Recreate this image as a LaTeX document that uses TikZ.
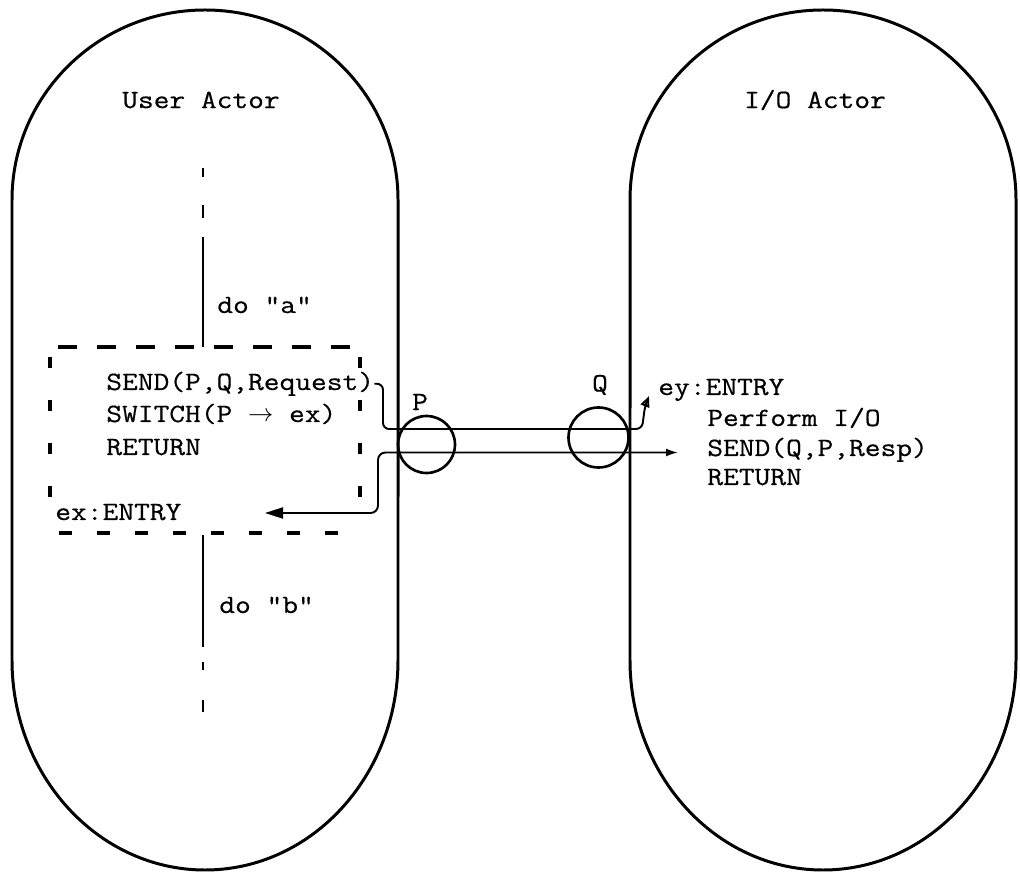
\documentclass[tikz,border=0pt]{standalone}
\usepackage{fontspec}
\setmonofont{Latin Modern Mono}[FakeStretch=1.16, FakeBold=0.5]
\usetikzlibrary{arrows.meta}

\tikzset{
  actor/.style={line width=1.7pt},
  txt/.style={font=\ttfamily\fontsize{15}{18}\selectfont, inner sep=0pt},
  flow/.style={line width=1.1pt},
  port/.style={circle, draw, line width=1.5pt, inner sep=0pt},
  boxtop/.style={line width=2.3pt, dash pattern=on 0.38cm off 0.4cm},
  boxbot/.style={line width=2.3pt, dash pattern=on 0.26cm off 0.5cm},
  boxside/.style={line width=1.8pt, dash pattern=on 0.22cm off 0.64cm}
}

\begin{document}
\begin{tikzpicture}[x=0.2cm, y=-0.2cm]
  \useasboundingbox (0,0) rectangle (102,87.2);

  % the two actors
  \draw[actor] (1.2,40) -- (1.2,20)
    arc[start angle=180, end angle=0, x radius=3.86cm, y radius=3.8cm]
    -- (39.8,66) arc[start angle=0, end angle=-180, x radius=3.86cm, y radius=4.2cm] -- cycle;
  \draw[actor] (63.0,40) -- (63.0,20)
    arc[start angle=180, end angle=0, x radius=3.86cm, y radius=3.8cm]
    -- (101.6,66) arc[start angle=0, end angle=-180, x radius=3.86cm, y radius=4.2cm] -- cycle;
  \node[txt] (useract) at (20.1,10.0) {User Actor};
  \node[txt] (ioact) at (81.5,10.0) {I/O Actor};

  % thread of the user actor
  \foreach \a/\b in {16.8/17.7, 20.5/21.8, 23.7/34.7, 53.5/64.7, 66.2/67.0, 70.0/71.2}
    \draw[flow] (20.3,\a) -- (20.3,\b);
  \node[txt, anchor=base west] (doa) at (21.7,31.3) {do "a"};
  \node[txt, anchor=base west] (dob) at (21.9,61.3) {do "b"};

  % switched block
  \draw[boxtop] (5.8,34.7) -- (35.2,34.7);
  \draw[boxbot] (5.9,53.3) -- (35.0,53.3);
  \draw[boxside] (5.0,35.7) -- (5.0,52.2);
  \draw[boxside] (36.0,35.7) -- (36.0,52.2);
  \node[txt, anchor=base west] (sendpq) at (10.6,39.0) {SEND(P,Q,Request)};
  \node[txt, anchor=base west] (switch) at (10.6,42.2) {SWITCH(P $\rightarrow$ ex)};
  \node[txt, anchor=base west] (ret) at (10.6,45.5) {RETURN};
  \node[txt, anchor=base west] (exentry) at (5.5,52.0) {ex:ENTRY};

  % I/O actor code
  \node[txt, anchor=base west] (eyentry) at (65.8,39.5) {ey:ENTRY};
  \node[txt, anchor=base west] (perform) at (70.7,42.6) {Perform I/O};
  \node[txt, anchor=base west] (sendqp) at (70.7,45.6) {SEND(Q,P,Resp)};
  \node[txt, anchor=base west] (ioret) at (70.7,48.5) {RETURN};

  % ports
  \node[port, minimum size=1.14cm] (P) at (42.65,44.45) {};
  \node[port, minimum size=1.2cm] (Q) at (59.85,43.75) {};
  \node[txt] (plab) at (42.0,40.2) {P};
  \node[txt] (qlab) at (60.0,38.5) {Q};

  % messages
  \coordinate (reqtip) at (64.9,39.6);
  \coordinate (respstart) at (67.8,45.25);
  \coordinate (resptip) at (26.5,51.3);
  \draw[flow, rounded corners=1.2mm, -{Triangle[open, length=2.2mm, width=1.8mm]}]
    (sendpq.east) -| (38.3,42.9) -- (64.2,42.9) -- (64.5,40.6) -- (reqtip);
  \draw[flow, rounded corners=1.5mm, {Latex[length=2.4mm, width=1.6mm]}-{Triangle[length=3.6mm, width=2.2mm]}]
    (respstart) -| (37.8,51.3) -- (resptip);
\end{tikzpicture}
\end{document}
